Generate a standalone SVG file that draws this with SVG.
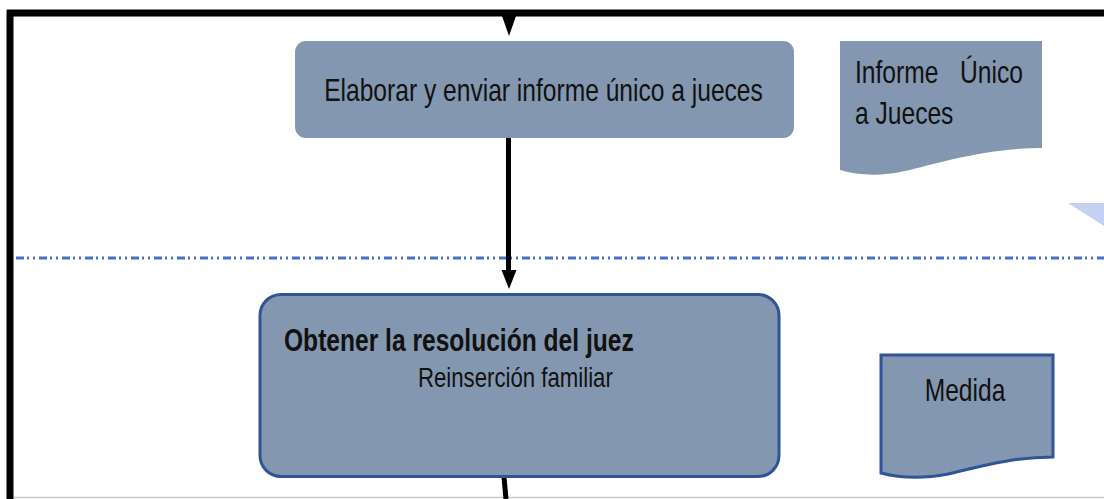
<svg xmlns="http://www.w3.org/2000/svg" width="1104" height="499" viewBox="0 0 1104 499">
<style>
.node{fill:#8497B0}
.bord{stroke:#2F5597;stroke-width:3}
.t{font-family:"Liberation Sans",Arial,sans-serif;fill:#111;font-size:24.6px}
.b{font-weight:bold}
.conn{stroke:#000;stroke-width:5;fill:none}
</style>
<defs>
<marker id="ah" markerWidth="15" markerHeight="19" refX="7.5" refY="18" orient="auto-start-reverse" markerUnits="userSpaceOnUse" viewBox="0 0 15 19">
<path d="M0,0 L15,0 L7.5,19 Z" fill="#000" transform="rotate(-90 7.5 9.5) translate(0,0)"/>
</marker>
</defs>
<rect width="1104" height="499" fill="#fff"/>
<!-- frame -->
<g id="frame">
<line x1="7" y1="13" x2="1104" y2="13" stroke="#000" stroke-width="7"/>
<line x1="10" y1="10" x2="10" y2="499" stroke="#000" stroke-width="7"/>
<line x1="14" y1="497.5" x2="1104" y2="497.5" stroke="#c8c8c8" stroke-width="1.5"/>
<line x1="16" y1="258" x2="1104" y2="258" stroke="#4472C4" stroke-width="3" stroke-dasharray="8 3 2 4 2 4"/>
<polygon points="1068,203 1104,203 1104,226" fill="#C5D0F3"/>
</g>
<g id="connectors">
<polygon points="502,16 516,16 509,36" fill="#000"/>
<line class="conn" x1="508.5" y1="137" x2="508.5" y2="272"/>
<polygon points="501.5,270 516.5,270 509,289" fill="#000"/>
<line class="conn" x1="504" y1="477" x2="506" y2="499"/>
</g>
<g id="n1">
<rect class="node" x="295" y="41" width="499" height="97" rx="11"/>
<text class="t" text-anchor="middle" transform="translate(543.5,101) scale(1,1.25)">Elaborar y enviar informe único a jueces</text>
</g>
<g id="d1">
<path class="node" d="M840,41 H1042 V148 C985,148 935,164 905,171 C878,177 858,175 840,170 Z"/>
<text class="t" transform="translate(855,83) scale(1,1.25)">Informe<tspan x="105">Único</tspan></text>
<text class="t" transform="translate(855,124) scale(1,1.25)">a Jueces</text>
</g>
<g id="n2">
<rect class="node bord" x="260" y="294.5" width="519" height="182" rx="21"/>
<text class="t b" transform="translate(284,351) scale(1,1.25)">Obtener la resolución del juez</text>
<text class="t" style="font-size:22.2px" transform="translate(418,387) scale(1,1.25)">Reinserción familiar</text>
</g>
<g id="d2">
<path class="node bord" d="M881,355 H1053 V457 C1012,457 978,467 948,474 C922,479 900,478 881,473 Z"/>
<text class="t" text-anchor="middle" transform="translate(965,401) scale(1,1.25)">Medida</text>
</g>
</svg>
